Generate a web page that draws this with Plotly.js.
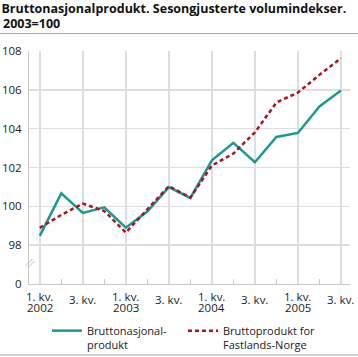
<!DOCTYPE html>
<html>
<head>
<meta charset="utf-8">
<script src="https://cdn.plot.ly/plotly-3.0.1.min.js"></script>
<style>html,body{margin:0;padding:0;background:#fff;}#chart{width:358px;height:357px;}</style>
</head>
<body>
<div id="chart"></div>
<script>
// Quarters 2002 K1 .. 2005 K3
const quarters = ['2002-1','2002-2','2002-3','2002-4','2003-1','2003-2','2003-3','2003-4','2004-1','2004-2','2004-3','2004-4','2005-1','2005-2','2005-3'];
const bnp = [98.48,100.67,99.66,99.95,98.90,99.73,100.99,100.43,102.37,103.27,102.27,103.57,103.78,105.14,105.96];
const fastland = [98.89,99.56,100.14,99.76,98.65,99.85,101.04,100.45,102.10,102.72,103.81,105.35,105.86,106.77,107.63];
const seriesNames = ['Bruttonasjonal-<br>produkt','Bruttoprodukt for<br>Fastlands-Norge'];
const xTickVals = ['2002-1','2002-3','2003-1','2003-3','2004-1','2004-3','2005-1','2005-3'];
const xQuarterText = ['1. kv.','3. kv.','1. kv.','3. kv.','1. kv.','3. kv.','1. kv.','3. kv.'];
const xYearText = ['2002','','2003','','2004','','2005',''];
const xMinorVals = ['2002-2','2002-4','2003-2','2003-4','2004-2','2004-4','2005-2'];
const yTickVals = [96,98,100,102,104,106,108];
const yTickText = ['0','98','100','102','104','106','108'];
const titleLine1 = 'Bruttonasjonalprodukt. Sesongjusterte volumindekser.';
const titleLine2 = '2003=100';

const FONT = 'Open Sans, Noto Sans, sans-serif';
const TXT = '#222';

const traces = [
  {x: quarters, y: bnp, name: seriesNames[0], type: 'scatter', mode: 'lines',
   line: {color: '#1a9a96', width: 2.5}},
  {x: quarters, y: fastland, name: seriesNames[1], type: 'scatter', mode: 'lines',
   line: {color: '#a8161b', width: 2.5, dash: '4px,3px'}}
];

const L = 29, R = 8, T = 51, B = 73;
const W = 358 - L - R, H = 357 - T - B;
const px = v => (v - L) / W;
const py = v => (357 - B - v) / H;
const cy = v => 1 - v / 357;

const annotations = [];
xTickVals.forEach((v, i) => {
  const hasYear = xYearText[i] !== '';
  annotations.push({x: v, xref: 'x', y: py(hasYear ? 296 : 299), yref: 'paper', yanchor: 'middle', xanchor: 'center',
    text: xQuarterText[i], showarrow: false, borderpad: 0,
    font: {family: FONT, size: 11.5, color: TXT}});
  if (hasYear) annotations.push({x: v, xref: 'x', y: py(307.5), yref: 'paper', yanchor: 'middle', xanchor: 'center',
    text: xYearText[i], showarrow: false, borderpad: 0,
    font: {family: FONT, size: 11.5, color: TXT}});
});
annotations.push({x: px(2), xref: 'paper', xanchor: 'left', y: py(23), yref: 'paper', yanchor: 'middle',
  text: '<b>' + titleLine2 + '</b>', showarrow: false, borderpad: 0,
  font: {family: FONT, size: 12.5, color: '#111'}});

const layout = {
  width: 358, height: 357,
  margin: {l: L, r: R, t: T, b: B, pad: 0, autoexpand: false},
  paper_bgcolor: '#fff', plot_bgcolor: '#fff',
  font: {family: FONT, size: 11.5, color: TXT},
  title: {text: '<b>' + titleLine1 + '</b>', x: 0.004, xref: 'container', xanchor: 'left',
          y: cy(9), yref: 'container', yanchor: 'middle',
          font: {family: FONT, size: 12.5, color: '#111'}},
  xaxis: {type: 'category', range: [-0.5, 14.42], tickvals: xTickVals, showticklabels: false,
          showgrid: true, gridcolor: '#dedede', gridwidth: 1.5,
          showline: true, linecolor: '#c8c8c8', linewidth: 1, ticks: '', zeroline: false,
          minor: {tickvals: xMinorVals, ticks: 'inside', ticklen: 5, tickcolor: '#c8c8c8', tickwidth: 1, showgrid: false},
          fixedrange: true},
  yaxis: {range: [96, 108], tickvals: yTickVals, ticktext: yTickText,
          showgrid: true, gridcolor: '#dedede', gridwidth: 1.5,
          showline: true, linecolor: '#c8c8c8', linewidth: 1, ticks: '', zeroline: false,
          ticklabelstandoff: 4,
          tickfont: {family: FONT, size: 11.5, color: TXT}, fixedrange: true},
  showlegend: true,
  legend: {orientation: 'h', x: px(47), xanchor: 'left', y: py(317), yanchor: 'top',
           valign: 'top', font: {family: FONT, size: 11, color: TXT},
           bgcolor: 'rgba(0,0,0,0)', entrywidth: 91, traceorder: 'normal'},
  annotations: annotations,
  shapes: [
    {type: 'line', xref: 'paper', yref: 'paper', x0: px(0), x1: px(358), y0: py(33.5), y1: py(33.5),
     line: {color: '#a8a8a8', width: 1}},
    {type: 'line', xref: 'paper', yref: 'paper', x0: px(0), x1: px(358), y0: py(355), y1: py(355),
     line: {color: '#a8a8a8', width: 1}},
    {type: 'line', xref: 'paper', yref: 'paper', x0: px(25.5), x1: px(32.5), y0: py(266), y1: py(259),
     line: {color: '#c0c0c0', width: 1}},
    {type: 'line', xref: 'paper', yref: 'paper', x0: px(27.5), x1: px(34.5), y0: py(268), y1: py(261),
     line: {color: '#c0c0c0', width: 1}}
  ]
};

Plotly.newPlot('chart', traces, layout, {displayModeBar: false, staticPlot: true});
</script>
</body>
</html>
